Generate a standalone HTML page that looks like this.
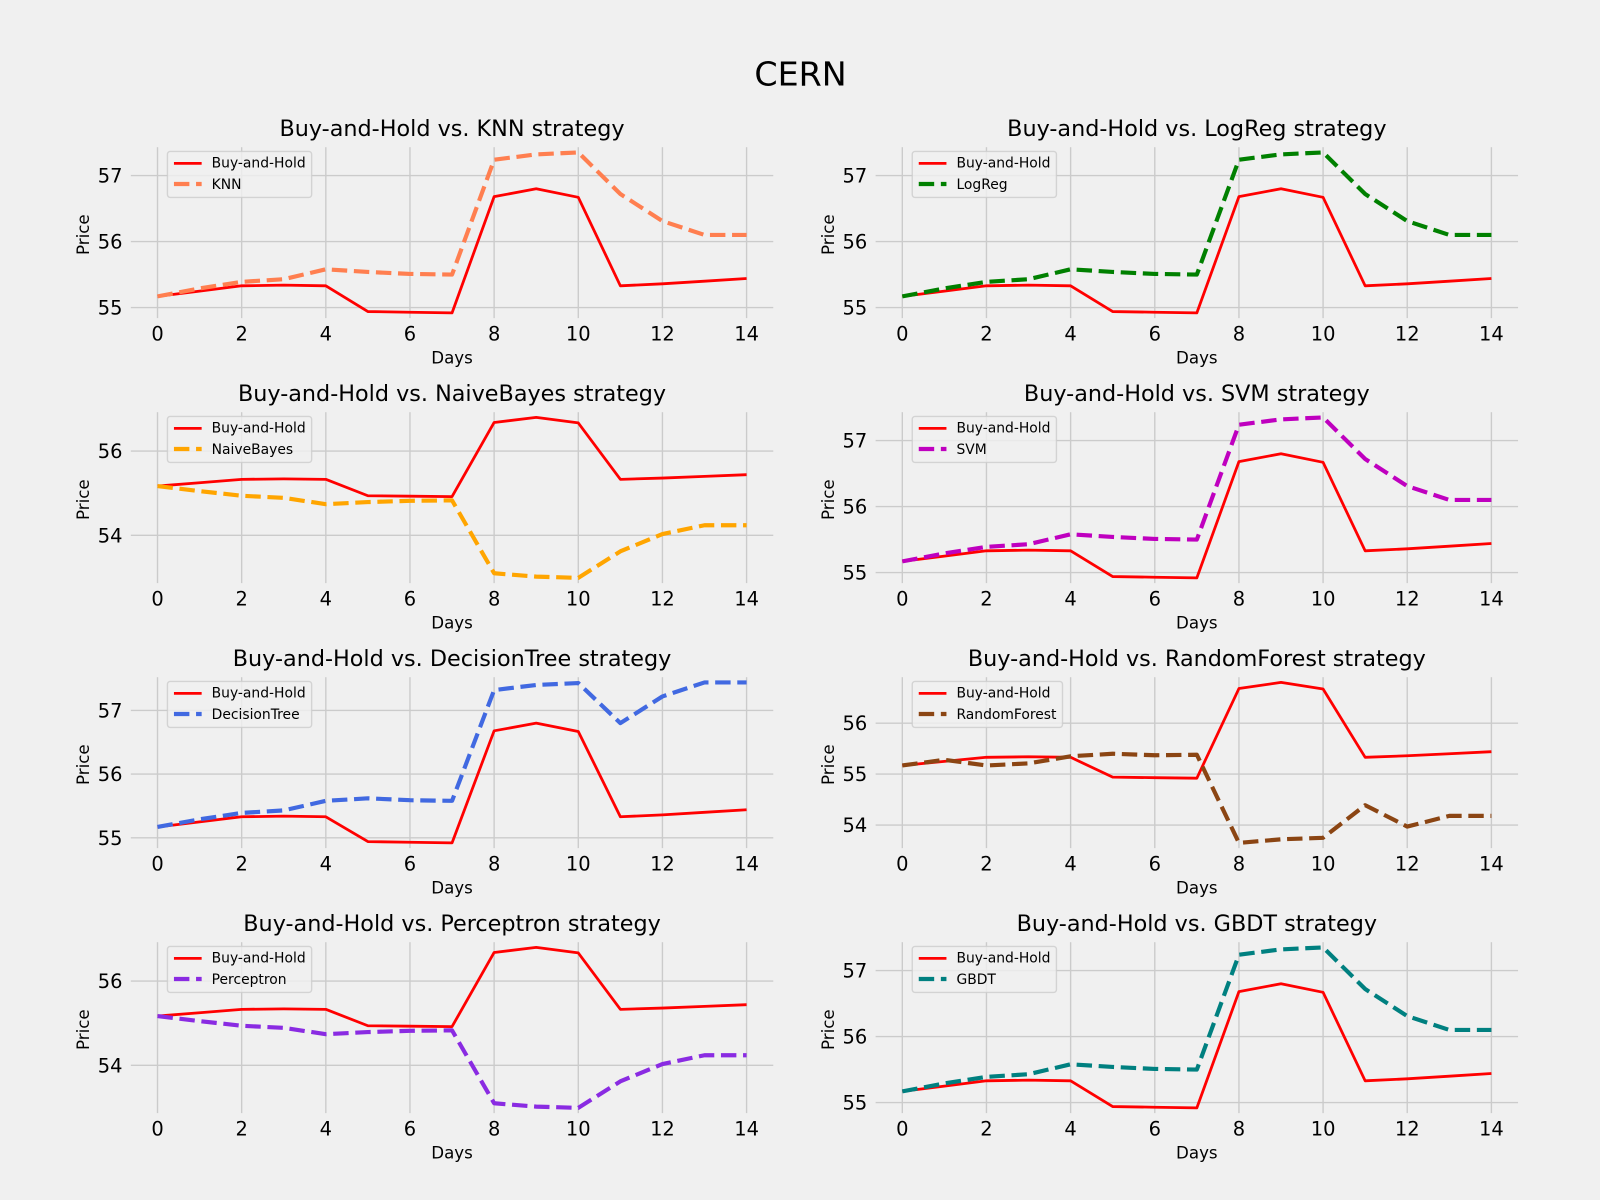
<!DOCTYPE html>
<html lang="en">
<head>
<meta charset="utf-8">
<title>CERN strategy comparison</title>
<style>
  html, body { margin: 0; padding: 0; background: #f0f0f0; }
  svg { display: block; }
  text { font-family: "DejaVu Sans", "Liberation Sans", sans-serif; fill: #000; }
</style>
</head>
<body>
<svg id="figure" xmlns="http://www.w3.org/2000/svg" width="1600" height="1200" viewBox="0 0 1600 1200">
  <rect x="0" y="0" width="1600" height="1200" fill="#f0f0f0"/>
  <text x="800.5" y="85.7" font-size="33.3" text-anchor="middle">CERN</text>
</svg>
<script>
const days = [0, 1, 2, 3, 4, 5, 6, 7, 8, 9, 10, 11, 12, 13, 14];
const xTickLabels = [0, 2, 4, 6, 8, 10, 12, 14];
const benchmarkName = "Buy-and-Hold";
const buyAndHold = [55.17, 55.25, 55.33, 55.34, 55.33, 54.94, 54.93, 54.92, 56.68, 56.80, 56.67, 55.33, 55.36, 55.40, 55.44];
const knnPrices = [55.17, 55.29, 55.39, 55.43, 55.58, 55.54, 55.51, 55.50, 57.24, 57.32, 57.35, 56.72, 56.31, 56.10, 56.10];
const logRegPrices = [55.17, 55.29, 55.39, 55.43, 55.58, 55.54, 55.51, 55.50, 57.24, 57.32, 57.35, 56.72, 56.31, 56.10, 56.10];
const naiveBayesPrices = [55.17, 55.05, 54.94, 54.89, 54.74, 54.79, 54.82, 54.83, 53.10, 53.02, 52.99, 53.62, 54.03, 54.24, 54.24];
const svmPrices = [55.17, 55.29, 55.39, 55.43, 55.58, 55.54, 55.51, 55.50, 57.24, 57.32, 57.35, 56.72, 56.31, 56.10, 56.10];
const decisionTreePrices = [55.17, 55.29, 55.39, 55.43, 55.58, 55.62, 55.59, 55.58, 57.32, 57.40, 57.43, 56.80, 57.22, 57.44, 57.44];
const randomForestPrices = [55.17, 55.28, 55.17, 55.21, 55.35, 55.40, 55.37, 55.38, 53.65, 53.72, 53.75, 54.39, 53.97, 54.18, 54.18];
const perceptronPrices = [55.17, 55.05, 54.94, 54.89, 54.74, 54.79, 54.82, 54.83, 53.10, 53.02, 52.99, 53.62, 54.03, 54.24, 54.24];
const gbdtPrices = [55.17, 55.29, 55.39, 55.43, 55.58, 55.54, 55.51, 55.50, 57.24, 57.32, 57.35, 56.72, 56.31, 56.10, 56.10];
const strategySeries = [knnPrices, logRegPrices, naiveBayesPrices, svmPrices, decisionTreePrices, randomForestPrices, perceptronPrices, gbdtPrices];
const strategyNames = ["KNN", "LogReg", "NaiveBayes", "SVM", "DecisionTree", "RandomForest", "Perceptron", "GBDT"];
const panelTitles = [
  "Buy-and-Hold vs. KNN strategy",
  "Buy-and-Hold vs. LogReg strategy",
  "Buy-and-Hold vs. NaiveBayes strategy",
  "Buy-and-Hold vs. SVM strategy",
  "Buy-and-Hold vs. DecisionTree strategy",
  "Buy-and-Hold vs. RandomForest strategy",
  "Buy-and-Hold vs. Perceptron strategy",
  "Buy-and-Hold vs. GBDT strategy"
];
const panelYTicks = [
  [55, 56, 57],
  [55, 56, 57],
  [54, 56],
  [55, 56, 57],
  [55, 56, 57],
  [54, 55, 56],
  [54, 56],
  [55, 56, 57]
];
const strategyColors = ["#ff7f50", "#008000", "#ffa500", "#bf00bf", "#4169e1", "#8b4513", "#8a2be2", "#008080"];

const SVG_NS = "http://www.w3.org/2000/svg";
const figure = document.getElementById("figure");
const AXES_WIDTH = 648;
const AXES_HEIGHT = 176.5;
const AXES_LEFTS = [128.05, 872.85];
const AXES_TOP = 144.4;
const ROW_STEP = 265;
const GRID = "#cbcbcb";
const BG = "#f0f0f0";
const LW_SOLID = 2.78;
const LW_DASH = 4.17;

function make(tag, parent) {
  const el = document.createElementNS(SVG_NS, tag);
  parent.appendChild(el);
  return el;
}

function extent(arrays) {
  let lo = Infinity, hi = -Infinity;
  arrays.forEach(function (a) {
    a.forEach(function (v) {
      if (v < lo) lo = v;
      if (v > hi) hi = v;
    });
  });
  return [lo, hi];
}

function makeXScale(left) {
  const lo = Math.min.apply(null, days);
  const hi = Math.max.apply(null, days);
  const pad = (hi - lo) * 0.05;
  return function (v) {
    return left + (v - (lo - pad)) / ((hi - lo) + 2 * pad) * AXES_WIDTH;
  };
}

function makeYScale(top, arrays) {
  const e = extent(arrays);
  const pad = (e[1] - e[0]) * 0.05;
  const lo = e[0] - pad;
  const hi = e[1] + pad;
  return function (v) {
    return top + (hi - v) / (hi - lo) * AXES_HEIGHT;
  };
}

function pointsOf(values, xs, ys) {
  return values.map(function (v, i) {
    return xs(days[i]).toFixed(2) + "," + ys(v).toFixed(2);
  }).join(" ");
}

function styleSeries(line, color, dashed) {
  line.setAttribute("fill", "none");
  line.setAttribute("stroke", color);
  line.setAttribute("stroke-width", dashed ? LW_DASH : LW_SOLID);
  line.setAttribute("stroke-linejoin", "round");
  line.setAttribute("stroke-linecap", "butt");
  if (dashed) line.setAttribute("stroke-dasharray", "15.43 6.67");
}

function drawPanel(index) {
  const col = index % 2;
  const row = Math.floor(index / 2);
  const left = AXES_LEFTS[col];
  const top = AXES_TOP + row * ROW_STEP;
  const bottom = top + AXES_HEIGHT;
  const centerX = left + AXES_WIDTH / 2;
  const centerY = top + AXES_HEIGHT / 2;
  const prices = strategySeries[index];
  const name = strategyNames[index];
  const color = strategyColors[index];
  const xs = makeXScale(left);
  const ys = makeYScale(top, [buyAndHold, prices]);
  const slug = name.toLowerCase();

  const panel = make("g", figure);
  
  

  xTickLabels.forEach(function (t) {
    const gl = make("line", panel);
    
    
    gl.setAttribute("x1", xs(t));
    gl.setAttribute("x2", xs(t));
    gl.setAttribute("y1", top);
    gl.setAttribute("y2", bottom);
    gl.setAttribute("stroke", GRID);
    gl.setAttribute("stroke-width", 1.39);

    const tl = make("text", panel);
    
    
    tl.setAttribute("x", xs(t));
    tl.setAttribute("y", bottom + 19.6);
    tl.setAttribute("font-size", 19.44);
    tl.setAttribute("text-anchor", "middle");
    tl.textContent = String(t);
  });

  panelYTicks[index].forEach(function (t) {
    const gl = make("line", panel);
    
    
    gl.setAttribute("x1", left);
    gl.setAttribute("x2", left + AXES_WIDTH);
    gl.setAttribute("y1", ys(t));
    gl.setAttribute("y2", ys(t));
    gl.setAttribute("stroke", GRID);
    gl.setAttribute("stroke-width", 1.39);

    const tl = make("text", panel);
    
    
    tl.setAttribute("x", left - 5.6);
    tl.setAttribute("y", ys(t) + 7);
    tl.setAttribute("font-size", 19.44);
    tl.setAttribute("text-anchor", "end");
    tl.textContent = String(t);
  });

  const base = make("polyline", panel);
  
  
  base.setAttribute("points", pointsOf(buyAndHold, xs, ys));
  styleSeries(base, "#ff0000", false);

  const strat = make("polyline", panel);
  
  
  strat.setAttribute("points", pointsOf(prices, xs, ys));
  styleSeries(strat, color, true);

  const frame = make("rect", panel);
  
  
  frame.setAttribute("x", left);
  frame.setAttribute("y", top);
  frame.setAttribute("width", AXES_WIDTH);
  frame.setAttribute("height", AXES_HEIGHT);
  frame.setAttribute("fill", "none");
  frame.setAttribute("stroke", BG);
  frame.setAttribute("stroke-width", 5.56);

  const title = make("text", panel);
  
  
  title.setAttribute("x", centerX);
  title.setAttribute("y", top - 8.3);
  title.setAttribute("font-size", 22.3);
  title.setAttribute("text-anchor", "middle");
  title.textContent = panelTitles[index];

  const xl = make("text", panel);
  
  
  xl.setAttribute("x", centerX);
  xl.setAttribute("y", bottom + 42.6);
  xl.setAttribute("font-size", 16.67);
  xl.setAttribute("text-anchor", "middle");
  xl.textContent = "Days";

  const yl = make("text", panel);
  
  
  yl.setAttribute("transform", "translate(" + (left - 39) + "," + (centerY + 2) + ") rotate(-90)");
  yl.setAttribute("font-size", 16.67);
  yl.setAttribute("text-anchor", "middle");
  yl.textContent = "Price";

  const legend = make("g", panel);
  
  
  const lx = left + 39.4;
  const ly = top + 7;
  const box = make("rect", legend);
  
  
  box.setAttribute("x", lx);
  box.setAttribute("y", ly);
  box.setAttribute("height", 46);
  box.setAttribute("rx", 2.8);
  box.setAttribute("ry", 2.8);
  box.setAttribute("fill", BG);
  box.setAttribute("fill-opacity", 0.8);
  box.setAttribute("stroke", "#cccccc");
  box.setAttribute("stroke-opacity", 0.8);
  box.setAttribute("stroke-width", 1.39);

  const h1 = make("line", legend);
  
  
  h1.setAttribute("x1", lx + 6.5);
  h1.setAttribute("x2", lx + 34.2);
  h1.setAttribute("y1", ly + 12);
  h1.setAttribute("y2", ly + 12);
  styleSeries(h1, "#ff0000", false);

  const t1 = make("text", legend);
  
  
  t1.setAttribute("x", lx + 44.2);
  t1.setAttribute("y", ly + 16.2);
  t1.setAttribute("font-size", 13.89);
  t1.textContent = benchmarkName;

  const h2 = make("line", legend);
  
  
  h2.setAttribute("x1", lx + 6.5);
  h2.setAttribute("x2", lx + 34.2);
  h2.setAttribute("y1", ly + 32.6);
  h2.setAttribute("y2", ly + 32.6);
  styleSeries(h2, color, true);

  const t2 = make("text", legend);
  
  
  t2.setAttribute("x", lx + 44.2);
  t2.setAttribute("y", ly + 37.6);
  t2.setAttribute("font-size", 13.89);
  t2.textContent = name;

  const textWidth = Math.max(t1.getComputedTextLength(), t2.getComputedTextLength());
  box.setAttribute("width", 44.2 + textWidth + 6);
}

strategySeries.forEach(function (s, i) {
  drawPanel(i);
});
</script>
</body>
</html>
